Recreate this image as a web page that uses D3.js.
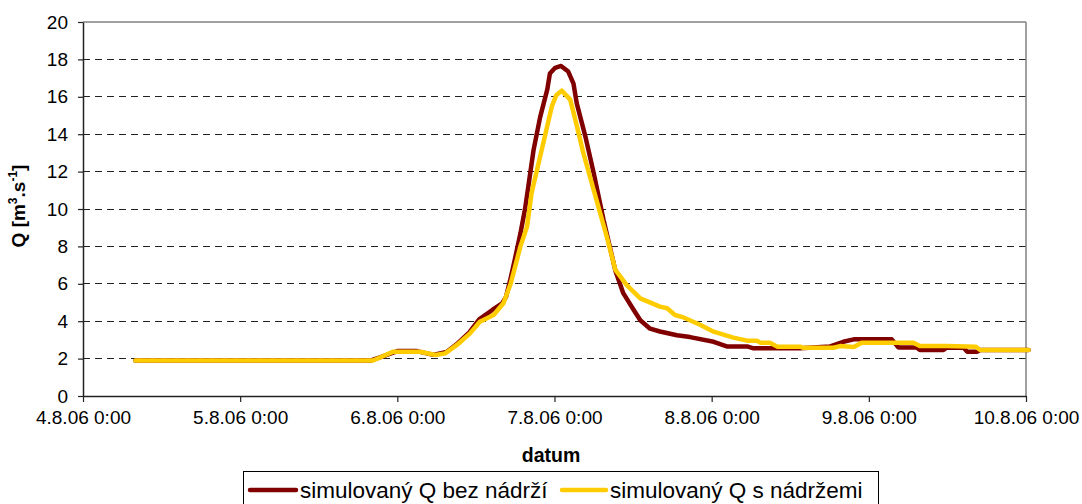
<!DOCTYPE html>
<html>
<head>
<meta charset="utf-8">
<script src="https://cdn.jsdelivr.net/npm/d3@7"></script>
<style>
html,body{margin:0;padding:0;background:#fff;}
svg{display:block;font-family:Arial,"Liberation Sans",sans-serif;}
</style>
</head>
<body>
<svg id="chart" width="1082" height="504"></svg>
<script>
// hours since 4.8.06 0:00
const xTickLabels = ["4.8.06 0:00","5.8.06 0:00","6.8.06 0:00","7.8.06 0:00","8.8.06 0:00","9.8.06 0:00","10.8.06 0:00"];
const yTicks = [0,2,4,6,8,10,12,14,16,18,20];

const bezHours = [8,44,46,48,51,53.5,55.5,57,59,60.5,62.5,64.0,64.6,65.3,66.0,66.8,67.5,68.0,68.8,69.8,70.9,71.3,72.1,73.0,74.1,74.9,75.4,76.7,78.0,79.5,81.3,82.5,84.1,85.1,86.6,88.1,90.7,92.7,96.3,98.3,101.4,102.4,109.5,114.1,116.1,117.7,123.5,124.5,127.3,127.8,131.4,131.9,134.5,135.0,136.5,137.0,144.4];
const bezValues = [1.9,1.9,2.15,2.4,2.4,2.2,2.35,2.75,3.4,4.1,4.6,4.95,5.3,6.3,7.4,8.7,10.0,11.2,13.15,14.9,16.4,17.25,17.55,17.65,17.35,16.7,15.65,13.9,11.9,9.4,6.7,5.5,4.6,4.05,3.6,3.45,3.25,3.15,2.9,2.65,2.65,2.55,2.55,2.65,2.9,3.03,3.03,2.6,2.6,2.46,2.46,2.58,2.58,2.37,2.37,2.46,2.46];

const sHours = [8,44.3,47.4,51.5,53.8,55.3,57.1,59.1,60.6,62.7,64.2,65.3,66.8,67.8,68.5,69.8,71.1,71.6,72.3,73.1,74.4,75.2,76.4,78.0,80.0,81.3,83.0,85.1,88.1,89.2,90.4,91.7,94.3,96.3,99.3,101.4,102.9,103.4,104.9,106.0,109.5,110.0,114.6,115.6,117.7,118.9,126.8,127.8,131.9,136.3,137.0,144.4];
const sValues = [1.9,1.9,2.37,2.37,2.19,2.28,2.73,3.35,3.97,4.33,4.96,6.0,8.0,9.05,10.85,12.8,14.75,15.5,16.1,16.33,15.85,14.75,13.0,11.0,8.5,6.74,5.94,5.22,4.78,4.69,4.33,4.2,3.8,3.44,3.12,2.96,2.96,2.85,2.85,2.64,2.64,2.58,2.58,2.67,2.62,2.85,2.85,2.67,2.67,2.64,2.46,2.46];

const seriesNames = ["simulovaný Q bez nádrží","simulovaný Q s nádržemi"];
const seriesColors = ["#800000","#FFCC00"];

const svg = d3.select("#chart");
const L = 83, R = 1026, T = 22, B = 396;
const x = d3.scaleLinear().domain([0,144]).range([L,R]);
const y = d3.scaleLinear().domain([0,20]).range([B,T]);

// gridlines
svg.append("g").selectAll("line").data(yTicks.filter(d=>d>0 && d<20)).join("line")
  .attr("x1",L).attr("x2",R).attr("y1",d=>y(d)).attr("y2",d=>y(d))
  .attr("stroke","#222").attr("stroke-width",1).attr("stroke-dasharray","7,5")
  .attr("shape-rendering","crispEdges");

// plot border top/right
svg.append("line").attr("x1",L).attr("x2",R).attr("y1",T).attr("y2",T).attr("stroke","#808080").attr("stroke-width",1.5);
svg.append("line").attr("x1",R).attr("x2",R).attr("y1",T).attr("y2",B).attr("stroke","#808080").attr("stroke-width",1.5);

// axes
const xAxis = d3.axisBottom(x).tickValues(d3.range(0,145,24)).tickFormat((d,i)=>xTickLabels[i]).tickSize(6).tickSizeOuter(0);
const gx = svg.append("g").attr("transform",`translate(0,${B})`).call(xAxis);
gx.select(".domain").attr("stroke","#222").attr("stroke-width",1.5);
gx.selectAll(".tick line").attr("stroke","#222").attr("stroke-width",1.2);
gx.selectAll(".tick text").attr("font-size","19px").attr("fill","#000").attr("font-family","Arial,'Liberation Sans',sans-serif").attr("y",15).attr("dy","0.71em");

const yAxis = d3.axisLeft(y).tickValues(yTicks).tickSize(5).tickSizeOuter(0);
const gy = svg.append("g").attr("transform",`translate(${L},0)`).call(yAxis);
gy.select(".domain").attr("stroke","#222").attr("stroke-width",1.5);
gy.selectAll(".tick line").attr("stroke","#222").attr("stroke-width",1.2);
gy.selectAll(".tick text").attr("font-size","19px").attr("fill","#000").attr("font-family","Arial,'Liberation Sans',sans-serif").attr("x",-15);

// lines
const line = d3.line().x(d=>x(d[0])).y(d=>y(d[1]));
const series = [d3.zip(bezHours,bezValues), d3.zip(sHours,sValues)];
series.forEach((s,i)=>{
  svg.append("path").datum(s).attr("d",line).attr("fill","none")
    .attr("stroke",seriesColors[i]).attr("stroke-width",4.5)
    .attr("stroke-linejoin","round").attr("stroke-linecap","round");
});

// axis titles
svg.append("text").attr("x",551).attr("y",462).attr("text-anchor","middle")
  .attr("font-size","19.5px").attr("font-weight","bold").text("datum");
const yt = svg.append("text").attr("transform","translate(25,206) rotate(-90)")
  .attr("text-anchor","middle").attr("font-size","19px").attr("font-weight","bold");
yt.append("tspan").text("Q [m");
yt.append("tspan").attr("font-size","12px").attr("dy","-8").text("3");
yt.append("tspan").attr("dy","8").text(".s");
yt.append("tspan").attr("font-size","12px").attr("dy","-8").text("-1");
yt.append("tspan").attr("dy","8").text("]");

// legend
svg.append("rect").attr("x",243.5).attr("y",471.5).attr("width",635).attr("height",40)
  .attr("fill","#fff").attr("stroke","#000").attr("stroke-width",1);
const legX = [[250,296,300],[562,606,610]];
seriesNames.forEach((n,i)=>{
  svg.append("line").attr("x1",legX[i][0]).attr("x2",legX[i][1]).attr("y1",490).attr("y2",490)
    .attr("stroke",seriesColors[i]).attr("stroke-width",4.5).attr("stroke-linecap","round");
  svg.append("text").attr("x",legX[i][2]).attr("y",498).attr("font-size","22.5px").attr("fill","#000").text(n);
});
</script>
</body>
</html>
